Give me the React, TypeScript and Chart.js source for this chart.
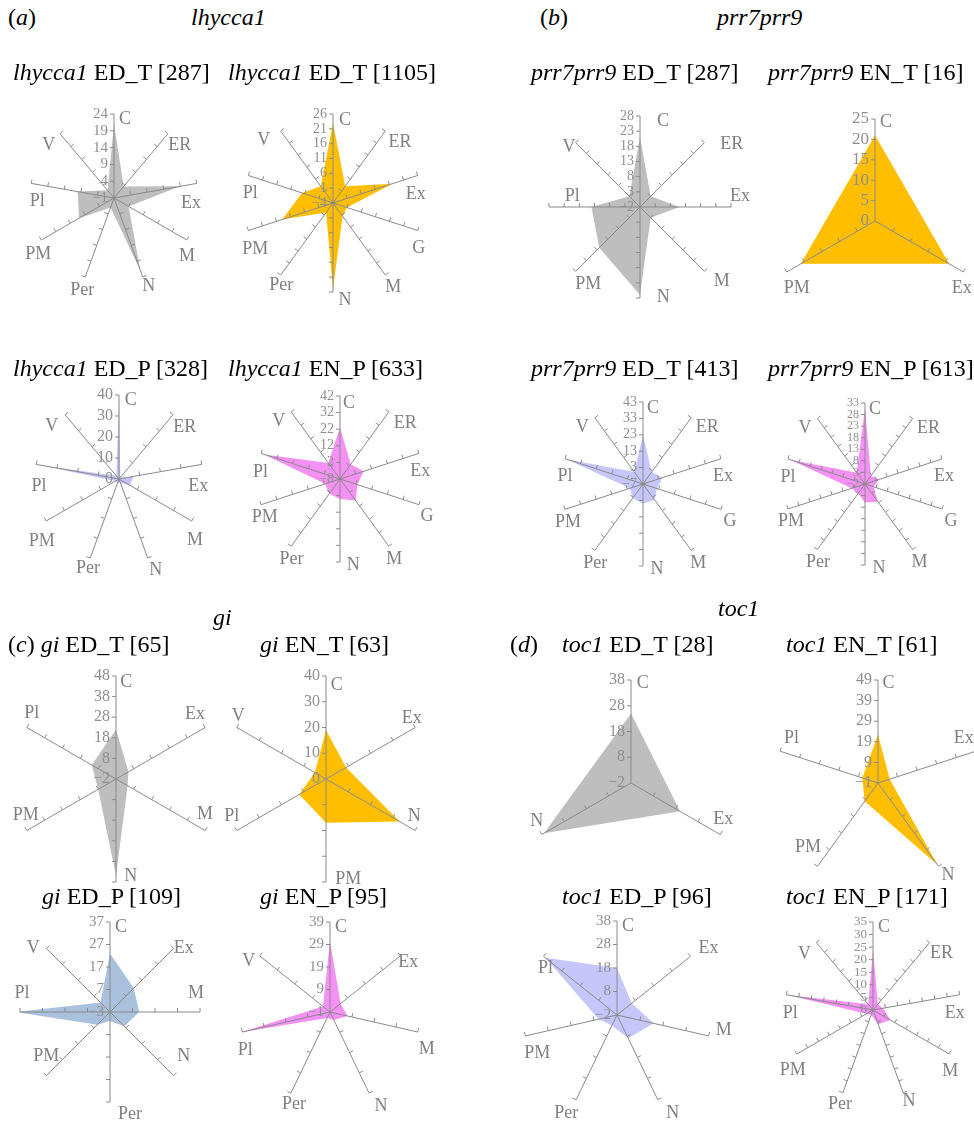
import React, { useEffect, useRef } from "react";
import { Chart, registerables } from "chart.js";
Chart.register(...registerables);

const SERIF = "'Liberation Serif', 'Times New Roman', serif";
const AXIS_COLOR = "#8a8a8a";
const LABEL_COLOR = "#808080";
const TICK_COLOR = "#8f8f8f";

const GRAY = "#bebebe";
const ORANGE = "#ffbf00";
const LAVENDER = "#c6c6fa";
const MAGENTA = "#f590f5";
const STEEL = "#a9c1dd";

// ---------- data ----------
const axes9 = ["C", "ER", "Ex", "M", "N", "Per", "PM", "Pl", "V"];
const axes10 = ["C", "ER", "Ex", "G", "M", "N", "Per", "PM", "Pl", "V"];
const axes8 = ["C", "ER", "Ex", "M", "N", "PM", "Pl", "V"];

const lhyEDT287Values = [21, 3.5, 19, 4, 22, 2, 11, 10, 2];
const lhyEDT287Ticks = [-1, 4, 9, 14, 19, 24];

const lhyEDT1105Values = [23, 3, 17, 1, 1.5, 25, 0, 14, 7, 3];
const lhyEDT1105Ticks = [-4, 1, 6, 11, 16, 21, 26];

const prrEDT287Values = [21, 3, 11, 3, 27, 17, 14, 3];
const prrEDT287Ticks = [-2, 3, 8, 13, 18, 23, 28];

const prrENT16Axes = ["C", "Ex", "PM"];
const prrENT16Values = [21, 21, 21];
const prrENT16Ticks = [0, 5, 10, 15, 20, 25];

const lhyEDP328Values = [38, 1, 7, 6, 2, 2, 2, 38, 2];
const lhyEDP328Ticks = [0, 10, 20, 30, 40];

const lhyENP633Values = [23, 3, 7, 3, 8, 4, 3, 1.5, 40, 4];
const lhyENP633Ticks = [-8, 2, 12, 22, 32, 42];

const prrEDT413Values = [23, 2, 5.5, 2, 5, 5, 3.5, 1.5, 42, 2];
const prrEDT413Ticks = [-7, 3, 13, 23, 33, 43];

const prrENP613Values = [31, 2.3, 4.6, 1.8, 7.5, 6, 3, 4, 32, 4];
const prrENP613Ticks = [-2, 3, 8, 13, 18, 23, 28, 33];

const giEDT65Axes = ["C", "Ex", "M", "N", "PM", "Pl"];
const giEDT65Values = [22, 5, 4.5, 45, 8, 11.6];
const giEDT65Ticks = [-2, 8, 18, 28, 38, 48];

const giENT63Axes = ["C", "Ex", "N", "PM", "Pl", "V"];
const giENT63Values = [19, 9, 33, 17, 12, 5];
const giENT63Ticks = [0, 10, 20, 30, 40];

const tocEDT28Axes = ["C", "Ex", "N"];
const tocEDT28Values = [25, 20, 37];
const tocEDT28Ticks = [-2, 8, 18, 28, 38];

const tocENT61Axes = ["C", "Ex", "N", "PM", "Pl"];
const tocENT61Values = [22.5, 5, 48, 10, 7];
const tocENT61Ticks = [-1, 9, 19, 29, 39, 49];

const giEDP109Axes = ["C", "Ex", "M", "N", "Per", "PM", "Pl", "V"];
const giEDP109Values = [23, 12, 10, 6, 1, 5, 39, 3];
const giEDP109Ticks = [-3, 7, 17, 27, 37];

const giENP95Axes = ["C", "Ex", "M", "N", "Per", "Pl", "V"];
const giENP95Values = [30.5, 5, 7, 3, 2, 39.5, 3];
const giENP95Ticks = [-1, 9, 19, 29, 39];

const tocEDP96Axes = ["C", "Ex", "M", "N", "Per", "PM", "Pl"];
const tocEDP96Values = [18, 6, 14, 9, 3, 6, 37];
const tocEDP96Ticks = [-2, 8, 18, 28, 38];

const tocENP171Values = [24, 3, 4, 8, 6, 2, 3, 35, 3];
const tocENP171Ticks = [0, 5, 10, 15, 20, 25, 30, 35];

// ---------- layout (label offsets are text placement relative to each axis end) ----------
type Spec = {
  axes: string[];
  values: number[];
  ticks: number[];
  color: string;
  cx: number;
  cy: number;
  r: number;
  tickFont: number;
  lab: number[][];
};

const LAB9 = [[11, 5], [12, 11], [-5, 19], [1, 17], [6, 9], [-3, 12], [-4, 16], [4, 19], [-12, 12]];
const LAB10 = [[10, 6], [16, 10], [2, 17.5], [9, 12], [7, 12.5], [14, 3], [0.5, 12.5], [3, 12.5], [0, 18], [-12.5, 9.5]];
const LAB10b = [[12, 6.5], [14.6, 11.4], [-2, 18.7], [1, 18.2], [8, 12], [12, 8], [0.5, 10], [7, 19], [2, 18], [-17, 9]];

const charts: Spec[] = [
  { axes: axes9, values: lhyEDT287Values, ticks: lhyEDT287Ticks, color: GRAY, cx: 114, cy: 198, r: 84, tickFont: 15,
    lab: [[11, 5], [11.7, 11.3], [-5.7, 19.4], [0.3, 16.6], [6, 9], [-3, 13], [-3, 14.7], [6, 18.3], [-11.3, 11.7]] },
  { axes: axes10, values: lhyEDT1105Values, ticks: lhyEDT1105Ticks, color: ORANGE, cx: 333, cy: 203, r: 89, tickFont: 14, lab: LAB10b },
  { axes: axes8, values: prrEDT287Values, ticks: prrEDT287Ticks, color: GRAY, cx: 640, cy: 207, r: 91, tickFont: 14,
    lab: [[23, 5], [27.4, 1.6], [9, -10.7], [17.4, 9.7], [23.3, -1], [12.6, 13.3], [23.3, -11], [-6.7, 4.3]] },
  { axes: prrENT16Axes, values: prrENT16Values, ticks: prrENT16Ticks, color: ORANGE, cx: 875, cy: 221, r: 102, tickFont: 17,
    lab: [[11, 3], [-1.6, 16.3], [10, 16.3]] },
  { axes: axes9, values: lhyEDP328Values, ticks: lhyEDP328Ticks, color: LAVENDER, cx: 119, cy: 479, r: 84, tickFont: 16,
    lab: [[11.7, 5.7], [11.7, 12.6], [-3.4, 21.6], [3.3, 19.7], [8, 12], [-2.3, 10.4], [-4.6, 20], [2.7, 21.6], [-13.3, 12.1]] },
  { axes: axes10, values: lhyENP633Values, ticks: lhyENP633Ticks, color: MAGENTA, cx: 340, cy: 479, r: 83, tickFont: 14,
    lab: [[9, 7.3], [16.4, 11.6], [1.3, 18], [8, 11.8], [5.4, 13.1], [13.3, 3], [0.3, 13.1], [3.7, 12.4], [-0.6, 19], [-12.4, 9.9]] },
  { axes: axes10, values: prrEDT413Values, ticks: prrEDT413Ticks, color: LAVENDER, cx: 643, cy: 484, r: 82, tickFont: 14, lab: LAB10 },
  { axes: axes10, values: prrENP613Values, ticks: prrENP613Ticks, color: MAGENTA, cx: 865, cy: 484, r: 81, tickFont: 12, lab: LAB10 },
  { axes: giEDT65Axes, values: giEDT65Values, ticks: giEDT65Ticks, color: GRAY, cx: 116, cy: 779, r: 103, tickFont: 16,
    lab: [[10.3, 6], [-10.2, -12.8], [-0.2, -15.8], [14.7, -5.3], [-1.1, -15.1], [4.9, -13.8]] },
  { axes: giENT63Axes, values: giENT63Values, ticks: giENT63Ticks, color: ORANGE, cx: 326, cy: 779, r: 103, tickFont: 16,
    lab: [[10.7, 9.7], [-3.5, -9.5], [-0.9, -14.1], [22.3, -3], [-5.1, -14.1], [1.5, -11.1]] },
  { axes: tocEDT28Axes, values: tocEDT28Values, ticks: tocEDT28Ticks, color: GRAY, cx: 631, cy: 783, r: 103, tickFont: 16,
    lab: [[11.7, 3.7], [3.1, -14.8], [-5.1, -13.1]] },
  { axes: tocENT61Axes, values: tocENT61Values, ticks: tocENT61Ticks, color: ORANGE, cx: 878, cy: 783, r: 103, tickFont: 16,
    lab: [[10.4, 3], [-12.3, -12.6], [9.5, 9], [-9.5, -19.3], [11.4, -12.6]] },
  { axes: giEDP109Axes, values: giEDP109Values, ticks: giEDP109Ticks, color: STEEL, cx: 110, cy: 1012, r: 90, tickFont: 15,
    lab: [[11, 5], [10, 0], [-4, -19], [10, -19], [20, 12], [0, -19], [2, -19], [-13, 0]] },
  { axes: giENP95Axes, values: giENP95Values, ticks: giENP95Ticks, color: MAGENTA, cx: 330, cy: 1012, r: 90, tickFont: 15,
    lab: [[11, 5], [8, 6], [9, 17], [12, 13], [3, 11], [3, 18], [-11, 5]] },
  { axes: tocEDP96Axes, values: tocEDP96Values, ticks: tocEDP96Ticks, color: LAVENDER, cx: 617, cy: 1015, r: 94, tickFont: 15,
    lab: [[11, 5], [18, -8], [15, -6], [15, 14], [-10, 14], [12, 17], [2, 12]] },
  { axes: axes9, values: tocENP171Values, ticks: tocENP171Ticks, color: MAGENTA, cx: 873, cy: 1010, r: 88, tickFont: 13, lab: LAB9 },
];

type Seg = { t: string; i?: boolean };
type Title = { x: number; y: number; segs: Seg[] };

const titles: Title[] = [
  { x: 8, y: 17, segs: [{ t: "(" }, { t: "a", i: true }, { t: ")" }] },
  { x: 191, y: 17, segs: [{ t: "lhycca1", i: true }] },
  { x: 540, y: 17, segs: [{ t: "(" }, { t: "b", i: true }, { t: ")" }] },
  { x: 717, y: 17, segs: [{ t: "prr7prr9", i: true }] },
  { x: 13, y: 72, segs: [{ t: "lhycca1", i: true }, { t: " ED_T [287]" }] },
  { x: 228, y: 72, segs: [{ t: "lhycca1", i: true }, { t: " ED_T [1105]" }] },
  { x: 531, y: 72, segs: [{ t: "prr7prr9", i: true }, { t: " ED_T [287]" }] },
  { x: 768, y: 72, segs: [{ t: "prr7prr9", i: true }, { t: " EN_T [16]" }] },
  { x: 13, y: 368, segs: [{ t: "lhycca1", i: true }, { t: " ED_P [328]" }] },
  { x: 228, y: 368, segs: [{ t: "lhycca1", i: true }, { t: " EN_P [633]" }] },
  { x: 531, y: 368, segs: [{ t: "prr7prr9", i: true }, { t: " ED_T [413]" }] },
  { x: 768, y: 368, segs: [{ t: "prr7prr9", i: true }, { t: " EN_P [613]" }] },
  { x: 213, y: 617, segs: [{ t: "gi", i: true }] },
  { x: 718, y: 608, segs: [{ t: "toc1", i: true }] },
  { x: 8, y: 644, segs: [{ t: "(" }, { t: "c", i: true }, { t: ") " }, { t: "gi", i: true }, { t: " ED_T [65]" }] },
  { x: 260, y: 644, segs: [{ t: "gi", i: true }, { t: " EN_T [63]" }] },
  { x: 510, y: 644, segs: [{ t: "(" }, { t: "d", i: true }, { t: ")" }] },
  { x: 562, y: 644, segs: [{ t: "toc1", i: true }, { t: " ED_T [28]" }] },
  { x: 786, y: 644, segs: [{ t: "toc1", i: true }, { t: " EN_T [61]" }] },
  { x: 42, y: 896, segs: [{ t: "gi", i: true }, { t: " ED_P [109]" }] },
  { x: 260, y: 896, segs: [{ t: "gi", i: true }, { t: " EN_P [95]" }] },
  { x: 562, y: 896, segs: [{ t: "toc1", i: true }, { t: " ED_P [96]" }] },
  { x: 786, y: 896, segs: [{ t: "toc1", i: true }, { t: " EN_P [171]" }] },
];

const MARGIN = 50;

const axisPlugin = {
  id: "mmaAxes",
  afterDatasetsDraw(chart: any, _args: any, opts: any) {
    const scale = chart.scales.r;
    const ctx = chart.ctx as CanvasRenderingContext2D;
    const labels: string[] = chart.data.labels;
    const ticks: number[] = opts.ticks;
    const lab: number[][] = opts.lab;
    const min = ticks[0];
    const max = ticks[ticks.length - 1];
    const c = scale.getPointPositionForValue(0, min);
    ctx.save();
    ctx.strokeStyle = AXIS_COLOR;
    ctx.lineWidth = 1;
    labels.forEach((_, i) => {
      const e = scale.getPointPositionForValue(i, max);
      const dx = e.x - c.x;
      const dy = e.y - c.y;
      const len = Math.hypot(dx, dy) || 1;
      const ux = dx / len;
      const uy = dy / len;
      let px = uy;
      let py = -ux;
      if (py > 0.05 || (Math.abs(py) <= 0.05 && px > 0)) {
        px = -px;
        py = -py;
      }
      ctx.beginPath();
      ctx.moveTo(c.x, c.y);
      ctx.lineTo(e.x, e.y);
      ticks.slice(1).forEach((t) => {
        const p = scale.getPointPositionForValue(i, t);
        ctx.moveTo(p.x, p.y);
        ctx.lineTo(p.x + px * 4, p.y + py * 4);
      });
      ctx.stroke();
    });
    // tick labels on first axis
    ctx.fillStyle = TICK_COLOR;
    ctx.font = `${opts.tickFont}px ${SERIF}`;
    ctx.textAlign = "right";
    ctx.textBaseline = "middle";
    ticks.forEach((t) => {
      const p = scale.getPointPositionForValue(0, t);
      ctx.fillText(String(t).replace("-", "\u2212"), p.x - 6, p.y);
    });
    // axis labels
    ctx.fillStyle = LABEL_COLOR;
    ctx.font = `18px ${SERIF}`;
    ctx.textAlign = "center";
    labels.forEach((text, i) => {
      const e = scale.getPointPositionForValue(i, max);
      const o = lab[i] || [0, 12];
      ctx.fillText(text, e.x + o[0], e.y + o[1]);
    });
    ctx.restore();
  },
};

function Radar({ spec }: { spec: Spec }) {
  const ref = useRef<HTMLCanvasElement>(null);
  useEffect(() => {
    if (!ref.current) return;
    const min = spec.ticks[0];
    const max = spec.ticks[spec.ticks.length - 1];
    const chart = new Chart(ref.current, {
      type: "radar",
      data: {
        labels: spec.axes,
        datasets: [
          {
            data: spec.values,
            backgroundColor: spec.color,
            borderColor: "rgba(0,0,0,0)",
            borderWidth: 0,
            pointRadius: 0,
            pointHoverRadius: 0,
            fill: "start",
          },
        ],
      },
      options: {
        responsive: false,
        animation: false,
        events: [],
        layout: { padding: MARGIN },
        plugins: {
          legend: { display: false },
          tooltip: { enabled: false },
          mmaAxes: { ticks: spec.ticks, tickFont: spec.tickFont, lab: spec.lab },
        } as any,
        scales: {
          r: {
            min,
            max,
            ticks: { display: false, stepSize: spec.ticks[1] - spec.ticks[0] },
            grid: { display: false },
            angleLines: { display: false },
            pointLabels: { display: false },
          },
        },
      },
      plugins: [axisPlugin as any],
    });
    return () => chart.destroy();
  }, [spec]);
  const size = 2 * spec.r + 2 * MARGIN;
  return (
    <canvas
      ref={ref}
      width={size}
      height={size}
      style={{ position: "absolute", left: spec.cx - spec.r - MARGIN, top: spec.cy - spec.r - MARGIN, width: size, height: size }}
    />
  );
}

export default function App() {
  return (
    <div style={{ position: "absolute", left: 0, top: 0, width: 974, height: 1135, background: "#fff", overflow: "hidden" }}>
      {charts.map((s, i) => (
        <Radar key={i} spec={s} />
      ))}
      {titles.map((t, i) => (
        <div
          key={"t" + i}
          style={{
            position: "absolute",
            left: t.x,
            top: t.y - 12,
            fontFamily: SERIF,
            fontSize: 24,
            lineHeight: "24px",
            whiteSpace: "pre",
            color: "#000",
          }}
        >
          {t.segs.map((s, j) => (
            <span key={j} style={{ fontStyle: s.i ? "italic" : "normal" }}>
              {s.t}
            </span>
          ))}
        </div>
      ))}
    </div>
  );
}
